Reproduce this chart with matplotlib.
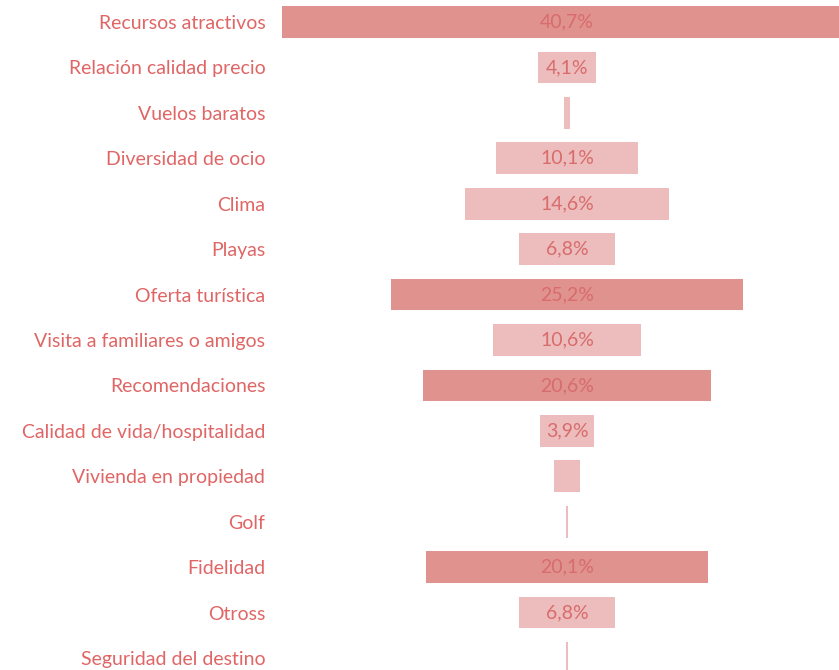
import matplotlib
matplotlib.use("Agg")
import matplotlib.pyplot as plt

categories = ["Recursos atractivos", "Relación calidad precio", "Vuelos baratos",
              "Diversidad de ocio", "Clima", "Playas", "Oferta turística",
              "Visita a familiares o amigos", "Recomendaciones",
              "Calidad de vida/hospitalidad", "Vivienda en propiedad", "Golf",
              "Fidelidad", "Otross", "Seguridad del destino"]
values = [40.7, 4.1, 0.4, 10.1, 14.6, 6.8, 25.2, 10.6, 20.6, 3.9, 1.9, 0.2, 20.1, 6.8, 0.2]
labels = ["40,7%", "4,1%", "", "10,1%", "14,6%", "6,8%", "25,2%", "10,6%", "20,6%",
          "3,9%", "", "", "20,1%", "6,8%", ""]
dark = [True, False, False, False, False, False, True, False, True, False, False, False, True, False, False]

DARK = "#E0928F"
LIGHT = "#EDBCBC"
TXT = "#E06565"
INTXT = "#D86C6C"

plt.rcParams['font.family'] = ['Lato', 'DejaVu Sans']
fig = plt.figure(figsize=(8.39, 6.70), dpi=100)
W, H = 839, 670
ax = fig.add_axes([275 / W, 0, 1 - 275 / W, 1])
pxper = 14.0
ax.set_xlim(-(567 - 275) / pxper, (839 - 567) / pxper)
sp = 45.43
ax.set_ylim(14 + 12 / sp, -22 / sp)

ys = list(range(len(categories)))
cols = [DARK if d else LIGHT for d in dark]
ax.barh(ys, values, left=[-v / 2 for v in values], height=0.7, color=cols, edgecolor="none")
for y, lab in zip(ys, labels):
    if lab:
        ax.text(0, y, lab, ha="center", va="center", color=INTXT, fontsize=14)

ax.set_yticks(ys)
ax.set_yticklabels(categories, color=TXT, fontsize=14)
ax.tick_params(axis="y", length=0, pad=7)
ax.set_xticks([])
for s in ax.spines.values():
    s.set_visible(False)

fig.savefig("out.png", dpi=100)
